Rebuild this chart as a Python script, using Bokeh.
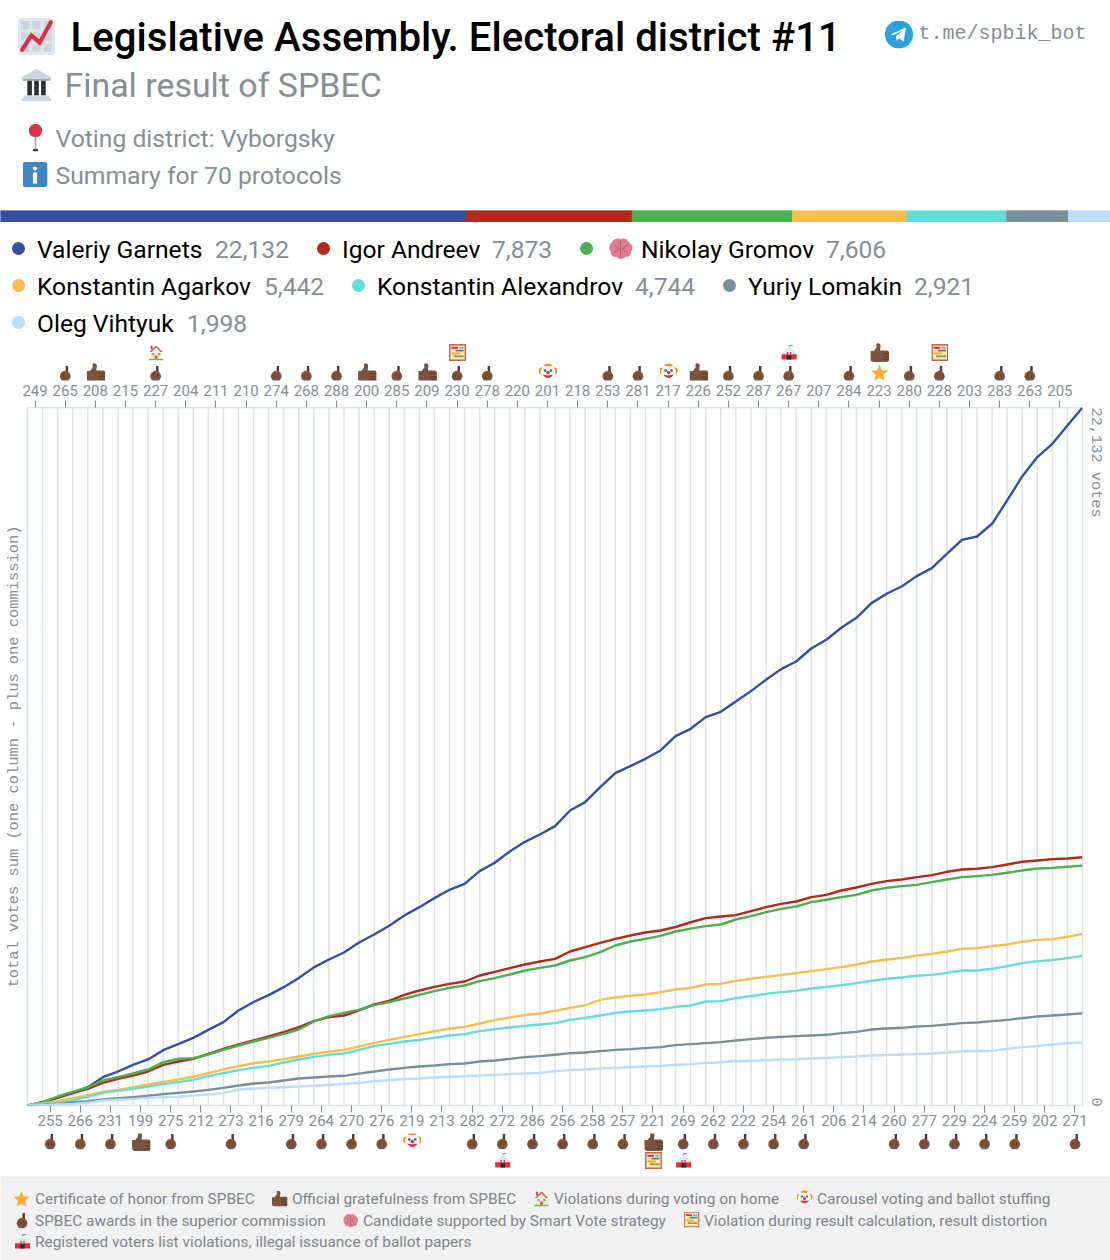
import base64
from math import pi
from bokeh.embed import file_html
from bokeh.layouts import column
from bokeh.models import FixedTicker, LinearAxis, Range1d
from bokeh.core.properties import value
from bokeh.plotting import figure
from bokeh.resources import INLINE

CANDIDATES = ["Valeriy Garnets", "Igor Andreev", "Nikolay Gromov", "Konstantin Agarkov",
              "Konstantin Alexandrov", "Yuriy Lomakin", "Oleg Vihtyuk"]
TOTALS = [22132, 7873, 7606, 5442, 4744, 2921, 1998]
COLORS = ["#364fa0", "#b3291b", "#4caf50", "#f6bd50", "#64dcd8", "#78909c", "#bbdefb"]

GARNETS = [0,106,264,412,581,898,1078,1290,1459,1755,1945,2146,2399,2643,3012,3282,3499,3752,4043,4380,4630,4852,5169,5422,5697,6025,6289,6575,6839,7029,7431,7695,8054,8361,8593,8858,9354,9619,10094,10538,10760,10993,11257,11712,11944,12314,12483,12811,13139,13498,13836,14079,14491,14766,15147,15464,15929,16225,16457,16785,17039,17493,17937,18043,18445,19185,19946,20559,20981,21563,22132]
ANDREEV = [0,85,243,391,528,719,846,951,1078,1290,1395,1480,1638,1797,1934,2061,2188,2325,2484,2674,2801,2854,3013,3203,3319,3509,3647,3763,3858,3932,4122,4239,4355,4471,4566,4651,4883,5021,5158,5285,5391,5486,5549,5660,5810,5940,5993,6035,6162,6289,6395,6469,6606,6680,6818,6913,7029,7114,7167,7240,7304,7410,7484,7505,7558,7642,7727,7769,7811,7832,7873]
GROMOV = [0,106,285,433,571,793,898,1015,1142,1374,1480,1501,1617,1765,1903,2029,2146,2273,2410,2664,2833,2938,3040,3182,3277,3393,3509,3626,3731,3805,3943,4038,4154,4281,4365,4439,4598,4704,4862,5074,5200,5285,5380,5518,5610,5687,5739,5898,6004,6131,6236,6310,6448,6522,6606,6680,6818,6902,6955,6997,7082,7166,7240,7272,7314,7378,7452,7515,7536,7568,7606]
AGARKOV = [0,63,137,222,328,433,497,581,666,750,824,909,1025,1142,1247,1342,1395,1469,1554,1638,1712,1765,1870,1977,2082,2177,2262,2357,2442,2494,2600,2706,2790,2864,2917,3002,3097,3171,3351,3425,3478,3520,3594,3678,3731,3837,3858,3953,4017,4080,4133,4196,4260,4323,4387,4471,4566,4630,4672,4756,4809,4883,4968,4989,5052,5105,5190,5253,5274,5348,5442]
ALEXANDROV = [0,42,85,159,275,402,465,528,602,676,740,814,930,1025,1120,1194,1258,1363,1459,1543,1607,1649,1765,1881,1955,2029,2082,2146,2220,2262,2357,2420,2473,2526,2569,2611,2716,2780,2854,2938,2981,3013,3055,3129,3171,3298,3308,3404,3467,3541,3594,3636,3710,3763,3816,3879,3953,4017,4059,4112,4143,4207,4281,4281,4334,4418,4513,4577,4609,4672,4744]
LOMAKIN = [0,21,53,95,137,190,233,264,307,359,402,444,497,560,634,698,729,793,856,888,920,941,1010,1078,1142,1194,1237,1268,1311,1332,1395,1427,1480,1533,1564,1607,1659,1681,1723,1765,1786,1818,1850,1913,1945,1977,2008,2061,2103,2146,2177,2199,2220,2241,2294,2336,2410,2442,2463,2505,2526,2568,2611,2632,2674,2716,2769,2822,2854,2886,2921]
VIHTYUK = [0,11,32,53,85,159,180,201,243,264,275,317,349,391,507,539,560,581,602,624,655,687,719,770,803,835,856,888,909,930,951,972,994,1015,1036,1089,1120,1142,1173,1194,1216,1237,1258,1290,1311,1342,1370,1405,1416,1437,1459,1469,1490,1511,1533,1554,1585,1596,1617,1628,1649,1681,1712,1723,1733,1797,1850,1881,1934,1977,1998]
SERIES = [GARNETS, ANDREEV, GROMOV, AGARKOV, ALEXANDROV, LOMAKIN, VIHTYUK]

PROTOCOLS = [249,255,265,266,208,231,215,199,227,275,204,212,211,273,210,216,274,279,268,264,288,270,200,276,285,219,209,213,230,282,278,272,220,286,201,256,218,258,253,257,281,221,217,269,226,262,252,222,287,254,267,261,207,206,284,214,223,260,280,277,228,229,203,224,283,259,263,202,205,271]

AWARD = [265,227,274,268,288,285,230,278,253,281,252,287,267,284,280,228,283,263,
         255,266,231,275,273,279,264,270,276,282,272,286,256,258,257,269,262,222,254,261,260,277,229,224,259,271]
THANKS = [208,200,209,226,199,221]
THANKS_UPPER = [223]
CLOWN = [201,217,219]
STAR = [223]
HOUSE = [227]
ABACUS = [230,228]
ABACUS_LOWER = [221]
TENT = [267]
TENT_LOWER = [272,269]

GREY = "#868e96"
LINE = "#dde2e8"
FONT = value("Roboto")
MONO = value("Liberation Mono")


def uri(body):
    svg = '<svg xmlns="http://www.w3.org/2000/svg" width="72" height="72" viewBox="0 0 36 36">' + body + '</svg>'
    return "data:image/svg+xml;base64," + base64.b64encode(svg.encode()).decode()


ICONS = {
    "star": uri('<path fill="#FFAC33" d="M18 1l5 12 13 1-10 9 3 13-11-7-11 7 3-13L0 14l13-1z"/>'),
    "hand": uri('<rect x="18" y="0" width="5.5" height="22" rx="2.7" fill="#60352A"/><circle cx="17" cy="24" r="12" fill="#7C533E"/><path d="M13 19v10M21 20v8" stroke="#60352A" stroke-width="1.5"/>'),
    "thumb": uri('<path fill="#7C533E" d="M1 15h6l5-6V2c1-3 8-2 8 3 0 3-1 6-1 9h12c4 0 5 2 5 5v13c0 3-2 4-5 4H7c-4 0-6-2-6-6z"/><path d="M24 20h12M24 26h12M24 31h12" stroke="#60352A" stroke-width="1.6"/>'),
    "house": uri('<path fill="#FFE8B6" d="M6 15h24v18H6z"/><path fill="#C1694F" d="M18 2L3 17h5l10-10 10 10h5z"/><path fill="#DD2E44" d="M6 3h4v8H6z"/><path fill="#55ACEE" d="M9 19h5v5H9zM22 19h5v5h-5z"/><path fill="#C1694F" d="M15 25h6v8h-6z"/><path fill="#77B255" d="M2 32h32v4H2z"/>'),
    "clown": uri('<circle cx="6" cy="17" r="7" fill="#F4900C"/><circle cx="30" cy="17" r="7" fill="#F4900C"/><circle cx="18" cy="20" r="15" fill="#F5F8FA"/><circle cx="12" cy="16" r="2.6" fill="#269"/><circle cx="24" cy="16" r="2.6" fill="#269"/><circle cx="18" cy="20" r="3.5" fill="#DD2E44"/><path fill="#DD2E44" d="M8 24c4 9 16 9 20 0-4 2-16 2-20 0z"/><path fill="#F4900C" d="M9 6c4-5 14-5 18 0-4 2-14 2-18 0z"/>'),
    "abacus": uri('<path fill="#C1694F" d="M0 0h36v36H0z"/><path fill="#FFE8B6" d="M3 3h30v30H3z"/><path fill="#DD2E44" d="M5 6h14v4H5z"/><path fill="#3B88C3" d="M14 12h17v4H14z"/><path fill="#FFAC33" d="M5 18h18v4H5z"/><path fill="#77B255" d="M10 24h21v4H10z"/><path fill="#99AAB5" d="M22 6h9v4h-9z"/>'),
    "tent": uri('<path fill="#55ACEE" d="M18 0h8v4h-8z"/><path fill="#99AAB5" d="M17 0h2v9h-2z"/><path fill="#E1E8ED" d="M18 7L2 18v4h32v-4z"/><path fill="#DD2E44" d="M1 22h34v12H1z"/><path fill="#292F33" d="M13 24h10v10H13z"/><path fill="#DD2E44" d="M13 17h3v5h-3zM20 17h3v5h-3z"/>'),
    "brain": uri('<path fill="#DD7F91" d="M6 9c2-5 8-7 12-4 4-3 10-1 12 4 5 2 7 9 3 13 1 5-3 9-8 8-3 4-10 4-13 0-5 1-9-3-8-8C0 18 2 11 6 9z"/><path d="M18 6v24M9 14c3 0 5 2 5 5M27 14c-3 0-5 2-5 5M8 23c3 0 5-1 6-3M28 23c-3 0-5-1-6-3" stroke="#BE4D65" stroke-width="1.4" fill="none"/>'),
    "pin": uri('<ellipse cx="18" cy="34" rx="3.5" ry="2" fill="#292F33"/><path fill="#99AAB5" d="M16.5 12h3l-.8 22h-1.4z"/><circle cx="18" cy="9" r="8.5" fill="#DD2E44"/>'),
    "info": uri('<rect width="36" height="36" rx="4" fill="#3B88C3"/><circle cx="18" cy="9.5" r="3" fill="#fff"/><rect x="15" y="15" width="6" height="16" fill="#fff"/>'),
    "chart": uri('<rect width="36" height="36" rx="4" fill="#E1E8ED"/><path fill="#CCD6DD" d="M3 3h8v8H3zM14 3h8v8h-8zM25 3h8v8h-8zM3 14h8v8H3zM14 14h8v8h-8zM25 14h8v8h-8zM3 25h8v8H3zM14 25h8v8h-8zM25 25h8v8h-8z"/><path d="M4 31L13 17l8 7L32 4" stroke="#DD2E44" stroke-width="4" fill="none" stroke-linecap="round"/>'),
    "bank": uri('<path fill="#CCD6DD" d="M18 1L2 10v2h32v-2z"/><path fill="#99AAB5" d="M3 12h30v2H3z"/><path fill="#292F33" d="M8 14h5v16H8zM15.5 14h5v16h-5zM23 14h5v16h-5z"/><path fill="#CCD6DD" d="M4 30h28v3H4zM2 33h32v3H2z"/>'),
    "telegram": uri('<circle cx="18" cy="18" r="18" fill="#2AA3DD"/><path fill="#fff" d="M7 18l20-9-3 18-6-4-3 3-1-6 9-7-12 6z"/>'),
}


def icons(p, name, xs, ys, size):
    p.image_url(url=[ICONS[name]] * len(xs), x=xs, y=ys, w=size, h=size,
                w_units="screen", h_units="screen", anchor="center")


def texts(p, xs, ys, labels, size, color, font=FONT):
    p.text(x=[x - 1 for x in xs], y=[y - 1 for y in ys], text=labels, text_font=font, text_font_size=size,
           text_color=color, text_baseline="middle", text_align="left")


def blank(height, x_range, y_range, fill="#ffffff", **kw):
    p = figure(width=1110, height=height, x_range=x_range, y_range=y_range,
               x_axis_location=None, y_axis_location=None, toolbar_location=None,
               output_backend="svg", min_border=0, outline_line_color=None,
               background_fill_color=fill, border_fill_color=fill, frame_align=False, **kw)
    p.grid.visible = False
    return p


# ---- header
head = blank(210, Range1d(0, 1110), Range1d(210, 0))
texts(head, [71], [38], ["Legislative Assembly. Electoral district #11"], "40.1px", "#000000", font=value("Roboto Medium"))
texts(head, [65], [86], ["Final result of SPBEC"], "33.9px", GREY)
texts(head, [56, 56], [139, 176], ["Voting district: Vyborgsky", "Summary for 70 protocols"], "24.7px", GREY)
texts(head, [919], [34], ["t.me/spbik_bot"], "20px", GREY, font=MONO)
icons(head, "chart", [36], [36], 37)
icons(head, "bank", [36], [84], 33)
icons(head, "pin", [35], [137], 28)
icons(head, "info", [34.5], [174], 25)
icons(head, "telegram", [898.5], [34], 28)

# ---- stacked share bar
bar = blank(12, Range1d(0, sum(TOTALS)), Range1d(0, 1))
lefts = [sum(TOTALS[:i]) for i in range(len(TOTALS))]
rights = [sum(TOTALS[:i + 1]) for i in range(len(TOTALS))]
bar.quad(left=lefts, right=rights, bottom=0, top=1, fill_color=COLORS, line_color=COLORS, line_width=1)

# ---- legend
leg = blank(118, Range1d(0, 1110), Range1d(340, 222))
ROW = [250, 250, 250, 287, 287, 287, 324]
DOT_X = [18, 323, 586, 18, 358, 729, 18]
NAME_X = [37.5, 342.5, 641.5, 37.5, 377.5, 748.5, 37.5]
VAL_X = [215.5, 492.5, 826.5, 264.5, 635.5, 914.5, 187.5]
leg.scatter(x=DOT_X, y=[r - 2 for r in ROW], size=13, color=COLORS, line_color=None)
texts(leg, NAME_X, ROW, CANDIDATES, "24.6px", "#000000")
texts(leg, VAL_X, ROW, [f"{t:,}" for t in TOTALS], "24.6px", GREY)
icons(leg, "brain", [620], [248], 25)

# ---- icon strips above / below the chart, in protocol-index units
band = 1055 / 70
xr = lambda: Range1d(-27.5 / band, (1110 - 27.5) / band)
slot = lambda num: PROTOCOLS.index(num) + 0.5

top = blank(41, xr(), Range1d(381, 340), margin=(0, 0, -4, 0))
low = blank(44, xr(), Range1d(1176, 1132))
top_set = set(PROTOCOLS[0::2])


def place(name, nums, y_top, y_low, size):
    a = [slot(n) for n in nums if n in top_set]
    b = [slot(n) for n in nums if n not in top_set]
    if a:
        icons(top, name, a, [y_top] * len(a), size)
    if b:
        icons(low, name, b, [y_low] * len(b), size)


place("hand", AWARD, 373, 1141, 16)
place("thumb", THANKS, 372, 1141, 19)
place("thumb", THANKS_UPPER, 352, 1141, 19)
place("clown", CLOWN, 371, 1140, 18)
place("star", STAR, 372, 1141, 17)
place("house", HOUSE, 352, 1160, 16)
place("abacus", ABACUS, 352, 1160, 17)
place("abacus", ABACUS_LOWER, 352, 1160, 17)
place("tent", TENT, 352, 1160, 16)
place("tent", TENT_LOWER, 352, 1160, 16)

# ---- chart
chart = figure(frame_width=1055, frame_height=698, x_range=Range1d(0, 70), y_range=Range1d(0, 22132),
               x_axis_location=None, y_axis_location=None, toolbar_location=None,
               output_backend="svg", min_border_left=27, min_border_right=28,
               min_border_top=30, min_border_bottom=27, outline_line_color=LINE,
               outline_line_width=1.5, border_fill_color=None, background_fill_color="#ffffff",
               frame_align=False)
chart.ygrid.visible = False
chart.xgrid.visible = False


def tick_axis(offset, standoff):
    ticks = [i + 0.5 for i in range(offset, 70, 2)]
    ax = LinearAxis(ticker=FixedTicker(ticks=ticks),
                    major_label_overrides={t: str(PROTOCOLS[int(t)]) for t in ticks})
    ax.axis_line_color = None
    ax.major_tick_in = 0
    ax.major_tick_out = 7
    ax.major_tick_line_color = "#888888"
    ax.minor_tick_line_color = None
    ax.major_label_text_font = "Roboto"
    ax.major_label_text_font_size = "15px"
    ax.major_label_text_color = GREY
    ax.major_label_standoff = standoff
    return ax


chart.add_layout(tick_axis(0, 5), "above")
chart.add_layout(tick_axis(1, 2), "below")

left_axis = LinearAxis(ticker=FixedTicker(ticks=[]), axis_label="total votes sum (one column - plus one commission)")
left_axis.axis_line_color = None
left_axis.major_tick_line_color = None
left_axis.minor_tick_line_color = None
left_axis.axis_label_text_font = "Liberation Mono"
left_axis.axis_label_text_font_size = "15.4px"
left_axis.axis_label_text_font_style = "normal"
left_axis.axis_label_text_color = GREY
left_axis.axis_label_standoff = 5
chart.add_layout(left_axis, "left")

# the two rotated labels of the right edge, hung from the vote values where they start
RIGHT_LABELS = {22132: f"{TOTALS[0]:,} votes", 254: "0"}
right_axis = LinearAxis(ticker=FixedTicker(ticks=list(RIGHT_LABELS)), major_label_overrides=RIGHT_LABELS)
right_axis.axis_line_color = None
right_axis.major_tick_line_color = None
right_axis.minor_tick_line_color = None
right_axis.major_tick_in = 0
right_axis.major_tick_out = 0
right_axis.major_label_orientation = -pi / 2
right_axis.major_label_text_font = "Liberation Mono"
right_axis.major_label_text_font_size = "15.3px"
right_axis.major_label_text_color = GREY
right_axis.major_label_standoff = 13
chart.add_layout(right_axis, "right")

chart.segment(x0=list(range(1, 70)), x1=list(range(1, 70)), y0=0, y1=22132, line_color=LINE, line_width=1.5)
x_vals = list(range(71))
for vals, color, name in zip(SERIES, COLORS, CANDIDATES):
    chart.line(x_vals, vals, line_color=color, line_width=2.4, line_join="round", name=name)

# ---- footer
foot = blank(84, Range1d(0, 1110), Range1d(1260, 1176), fill="#f1f1f1")
foot.segment(x0=[0], x1=[1110], y0=[1176.5], y1=[1176.5], line_color="#e4e4e4", line_width=1)
FOOT_X = [35.5, 292.5, 554.5, 817.5, 35.5, 363.5, 704.5, 35.5]
FOOT_Y = [1199, 1199, 1199, 1199, 1221, 1221, 1221, 1242]
FOOT_TEXT = ["Certificate of honor from SPBEC", "Official gratefulness from SPBEC",
             "Violations during voting on home", "Carousel voting and ballot stuffing",
             "SPBEC awards in the superior commission", "Candidate supported by Smart Vote strategy",
             "Violation during result calculation, result distortion",
             "Registered voters list violations, illegal issuance of ballot papers"]
texts(foot, FOOT_X, FOOT_Y, FOOT_TEXT, "15.4px", "#7f868d")
for name, x, y in [("star", 21, 1198), ("thumb", 279, 1198), ("house", 541, 1198), ("clown", 804, 1197),
                   ("hand", 22, 1220), ("brain", 350, 1220), ("abacus", 691, 1219), ("tent", 22, 1241)]:
    icons(foot, name, [x], [y], 16)

page = column(head, bar, leg, top, chart, low, foot, spacing=0)
open("out.html", "w").write(file_html(page, INLINE))
